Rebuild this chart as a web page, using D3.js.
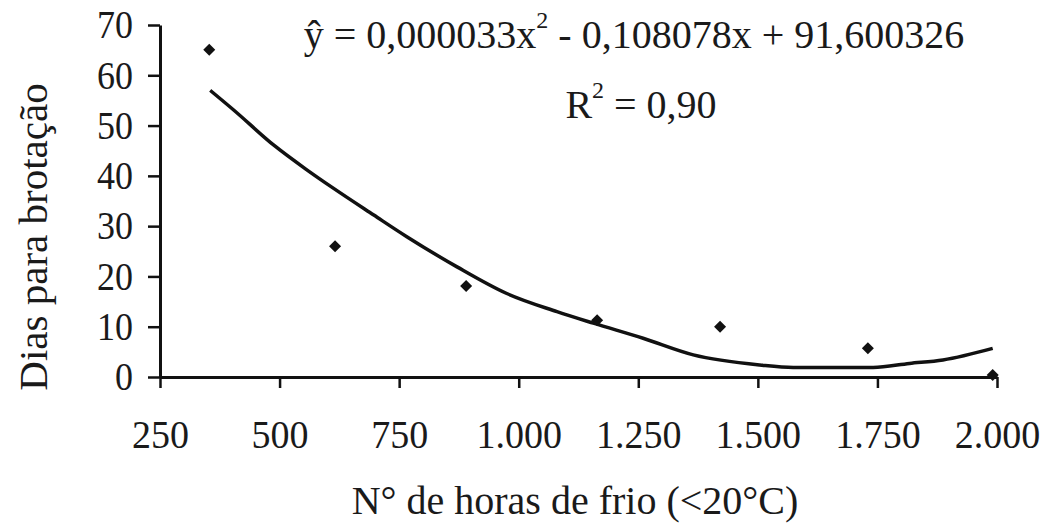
<!DOCTYPE html>
<html>
<head>
<meta charset="utf-8">
<script src="https://cdn.jsdelivr.net/npm/d3@7"></script>
<style>
  body { margin: 0; background: #fff; }
  text { font-family: "Liberation Serif", "DejaVu Serif", serif; fill: #1a1a1a; }
</style>
</head>
<body>
<script>
// observed points
const hoursFrio = [353, 616, 890, 1164, 1421, 1730, 1991]
const diasBrotacao = [65.1, 26.0, 18.1, 11.3, 10.0, 5.7, 0.4]

// fitted trend line
const trendX = [355, 404, 488, 557, 613, 697, 766, 871, 975, 1080, 1156, 1260, 1365, 1504, 1574, 1741, 1817, 1887, 1991]
const trendY = [57.0, 53.1, 46.1, 41.2, 37.5, 32.2, 27.9, 21.9, 16.6, 13.0, 10.7, 7.7, 4.4, 2.4, 1.9, 1.9, 2.7, 3.4, 5.7]

const xTicks = [250, 500, 750, 1000, 1250, 1500, 1750, 2000]
const xTickLabels = ['250', '500', '750', '1.000', '1.250', '1.500', '1.750', '2.000']
const yTicks = [0, 10, 20, 30, 40, 50, 60, 70]

const W = 1053, H = 524

const svg = d3.select('body').append('svg')
  .attr('width', W)
  .attr('height', H)

const x = d3.scaleLinear().domain([250, 2000]).range([160, 997])
const y = d3.scaleLinear().domain([0, 70]).range([377, 25])

const fs = 40

const gx = svg.append('g')
  .attr('transform', `translate(0,${y(0)})`)
  .call(d3.axisBottom(x).tickValues(xTicks).tickFormat((d, i) => xTickLabels[i]).tickSize(11).tickSizeOuter(0).tickPadding(32))
const gy = svg.append('g')
  .attr('transform', `translate(${x(250)},0)`)
  .call(d3.axisLeft(y).tickValues(yTicks).tickSize(12).tickSizeOuter(0).tickPadding(15))

svg.selectAll('.domain').attr('stroke', '#111').attr('stroke-width', 3)
svg.selectAll('.tick line').attr('stroke', '#111').attr('stroke-width', 2.5)
svg.selectAll('.tick text').attr('font-size', fs).attr('font-family', '"Liberation Serif", serif').attr('fill', '#222')
gx.selectAll('.tick text').attr('transform', 'scale(0.95,1)')
gy.selectAll('.tick text').attr('transform', 'scale(0.9,1)').attr('x', -30)

// trend curve
const line = d3.line()
  .x((d) => x(d[0]))
  .y((d) => y(d[1]))
  .curve(d3.curveMonotoneX)

svg.append('path')
  .datum(trendX.map((v, i) => [v, trendY[i]]))
  .attr('fill', 'none')
  .attr('stroke', '#111')
  .attr('stroke-width', 3.5)
  .attr('d', line)

// diamonds
svg.selectAll('path.pt')
  .data(hoursFrio.map((v, i) => [v, diasBrotacao[i]]))
  .join('path')
  .attr('class', 'pt')
  .attr('transform', (d) => `translate(${x(d[0])},${y(d[1])})`)
  .attr('d', 'M0,-6L6,0L0,6L-6,0Z')
  .attr('fill', '#111')

// titles
svg.append('text')
  .attr('x', 575).attr('y', 514)
  .attr('text-anchor', 'middle')
  .attr('font-size', fs)
  .text('N° de horas de frio (<20°C)')

svg.append('text')
  .attr('transform', 'translate(47,237) rotate(-90)')
  .attr('text-anchor', 'middle')
  .attr('font-size', 41)
  .text('Dias para brotação')

// equation
const eq = svg.append('text')
  .attr('x', 634).attr('y', 48)
  .attr('text-anchor', 'middle')
  .attr('font-size', fs)
eq.append('tspan').text('ŷ = 0,000033x')
eq.append('tspan').attr('dy', -20).attr('font-size', 24).text('2')
eq.append('tspan').attr('dy', 20).text(' - 0,108078x + 91,600326')

const r2 = svg.append('text')
  .attr('x', 641).attr('y', 118)
  .attr('text-anchor', 'middle')
  .attr('font-size', fs)
r2.append('tspan').text('R')
r2.append('tspan').attr('dy', -20).attr('font-size', 24).text('2')
r2.append('tspan').attr('dy', 20).text(' = 0,90')
</script>
</body>
</html>
